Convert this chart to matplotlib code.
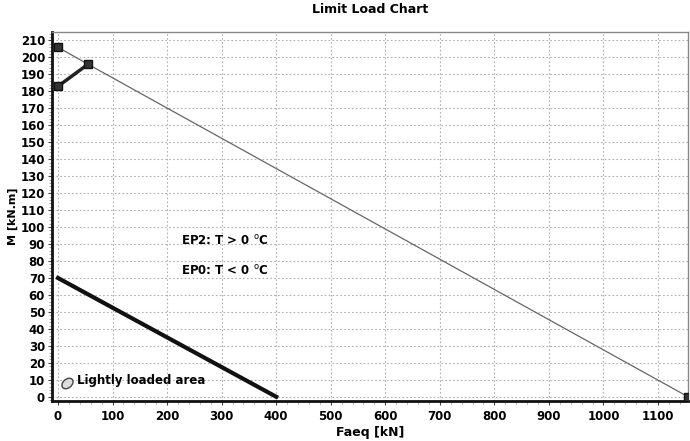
import matplotlib
matplotlib.use("Agg")
import matplotlib.pyplot as plt
from matplotlib.ticker import MultipleLocator
from matplotlib.markers import MarkerStyle
from matplotlib.transforms import Affine2D

# Data
limit_x = [0, 55, 1155]
limit_y = [206, 196, 0]
ep_x = [0, 55]
ep_y = [183, 196]
ep0_x = [0, 400]
ep0_y = [70, 0]
marker_x = [0, 0, 55, 1155]
marker_y = [206, 183, 196, 0]

title = "Limit Load Chart"
xlabel = "Faeq [kN]"
ylabel = "M [kN.m]"

fig = plt.figure(figsize=(6.9, 4.41), dpi=100)
ax = fig.add_axes([52/690, 40/441, (688-52)/690, (401-32)/441])

ax.plot(limit_x, limit_y, color="#666666", lw=0.9, zorder=3)
ax.plot(ep_x, ep_y, color="#222222", lw=2.5, zorder=3)
ax.plot(ep0_x, ep0_y, color="#111111", lw=3.0, zorder=3)
ax.plot(marker_x, marker_y, ls="none", marker="s", ms=6, color="#333333",
        mec="#111111", zorder=4)

ax.set_xlim(-11, 1155)
ax.set_ylim(-2.5, 215)
ax.xaxis.set_major_locator(MultipleLocator(100))
ax.xaxis.set_minor_locator(MultipleLocator(20))
ax.yaxis.set_major_locator(MultipleLocator(10))
ax.yaxis.set_minor_locator(MultipleLocator(2))
ax.grid(True, which="major", color="#b0b0b0", ls=(0, (1.5, 2)), lw=0.8)

for lbl in ax.get_xticklabels() + ax.get_yticklabels():
    lbl.set_fontweight("bold")
ax.tick_params(axis="both", which="major", labelsize=8.5, length=3, color="#444444")
ax.tick_params(axis="both", which="minor", length=2, color="#999999")
ax.tick_params(axis="y", pad=2)

for s in ["left", "bottom"]:
    ax.spines[s].set_linewidth(2.0)
    ax.spines[s].set_color("#111111")
for s in ["top", "right"]:
    ax.spines[s].set_linewidth(1.0)
    ax.spines[s].set_color("#888888")

ax.set_title(title, fontsize=9, fontweight="bold", pad=14)
ax.set_xlabel(xlabel, fontsize=9, fontweight="bold", labelpad=2)
ax.set_ylabel(ylabel, fontsize=8, fontweight="bold", labelpad=2)

ax.text(306, 92, "EP2: T > 0 $^{\\mathrm{o}}$C", fontsize=8.5, fontweight="bold",
        ha="center", va="center")
ax.text(306, 74, "EP0: T < 0 $^{\\mathrm{o}}$C", fontsize=8.5, fontweight="bold",
        ha="center", va="center")
ax.text(35, 9.5, "Lightly loaded area", fontsize=8.5, fontweight="bold",
        ha="left", va="center")
ell = MarkerStyle("o", transform=Affine2D().scale(1.0, 0.7).rotate_deg(40))
ax.plot([17], [8], ls="none", marker=ell, ms=9, mfc="#dddddd", mec="#444444",
        mew=1, zorder=5)

fig.savefig("out.png", dpi=100)
